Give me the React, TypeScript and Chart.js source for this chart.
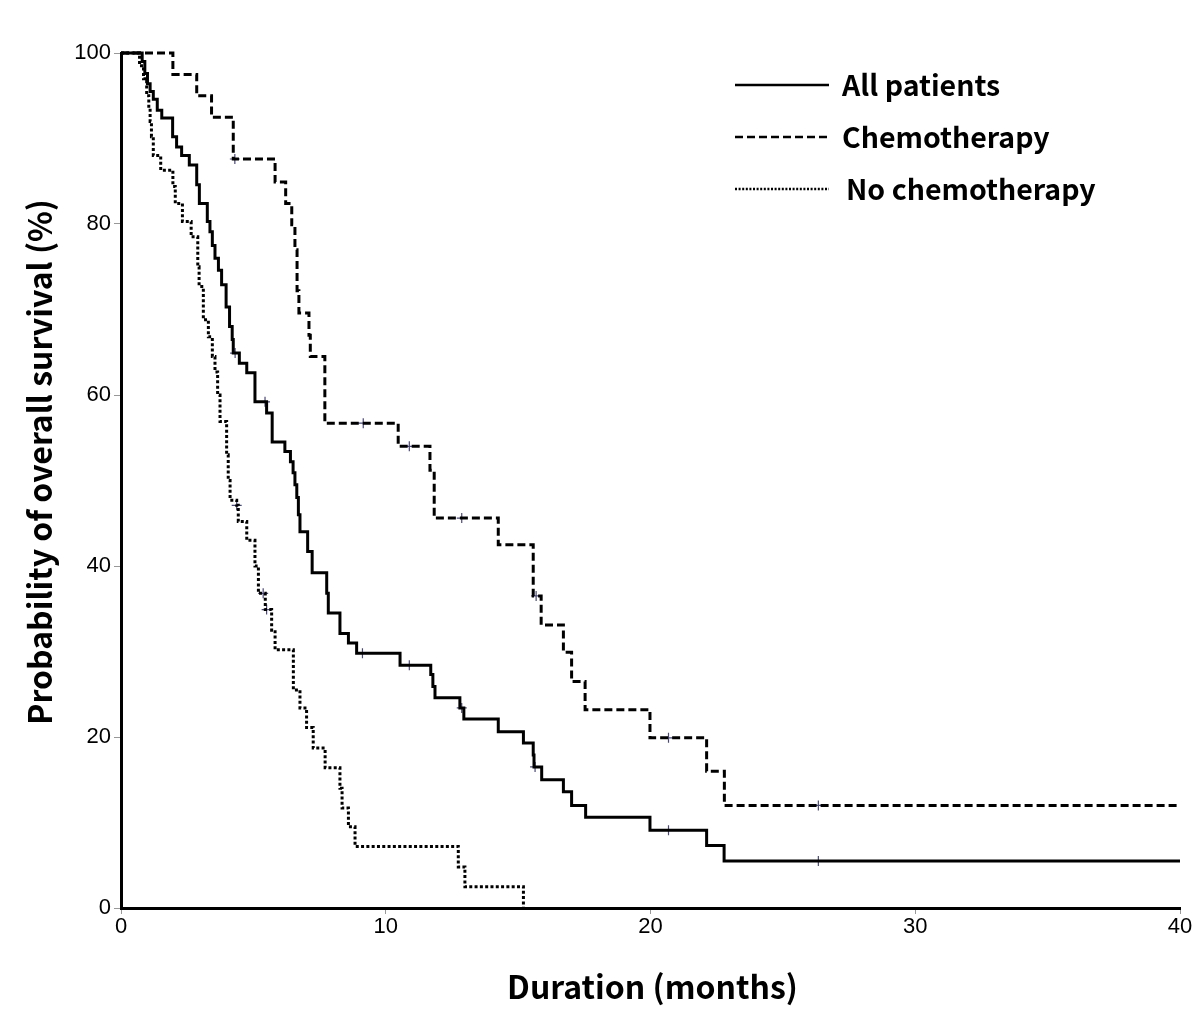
import React, { useEffect, useRef } from 'react';
import { Chart, registerables } from 'chart.js';

Chart.register(...registerables);

// ---- Data (months, % surviving after each drop) ----
const seriesNames = ['All patients', 'Chemotherapy', 'No chemotherapy'];

const allTimes = [0, 0.8, 0.9, 1.0, 1.1, 1.22, 1.37, 1.54, 1.95, 2.1, 2.29, 2.58, 2.86, 2.96, 3.26, 3.36, 3.45, 3.55, 3.68, 3.8, 3.97, 4.1, 4.2, 4.24, 4.47, 4.75, 5.06, 5.5, 5.71, 6.19, 6.4, 6.5, 6.57, 6.64, 6.7, 6.76, 7.05, 7.22, 7.77, 7.83, 8.27, 8.59, 8.9, 10.54, 11.7, 11.78, 11.86, 12.8, 12.95, 14.25, 15.2, 15.57, 15.6, 15.89, 16.71, 17.02, 17.55, 19.98, 22.12, 22.78, 40];
const allSurv = [100, 99.0, 97.6, 96.4, 95.5, 94.6, 93.3, 92.4, 90.2, 89.0, 88.0, 86.9, 84.6, 82.4, 80.3, 79.1, 77.5, 76.0, 74.6, 72.9, 70.3, 68.0, 66.5, 64.9, 63.7, 62.6, 59.2, 57.9, 54.5, 53.4, 52.2, 50.9, 49.5, 48.0, 46.0, 44.0, 41.7, 39.2, 36.8, 34.5, 32.1, 31.0, 29.8, 28.4, 27.3, 25.9, 24.6, 23.4, 22.1, 20.6, 19.3, 17.9, 16.5, 15.0, 13.6, 12.0, 10.6, 9.1, 7.3, 5.5, 5.5];
const allCensorT = [4.31, 5.44, 9.12, 10.89, 12.87, 15.64, 20.68, 26.34];
const allCensorS = [64.9, 59.2, 29.8, 28.4, 23.4, 16.5, 9.1, 5.5];

const chemoTimes = [0, 1.96, 2.86, 3.42, 4.24, 5.82, 6.22, 6.45, 6.57, 6.65, 6.72, 7.1, 7.15, 7.7, 10.47, 11.67, 11.83, 14.25, 15.57, 15.87, 16.71, 17.02, 17.53, 19.98, 22.12, 22.79, 40];
const chemoSurv = [100, 97.5, 95.0, 92.5, 87.6, 84.9, 82.4, 79.9, 77.0, 72.2, 69.6, 67.0, 64.5, 56.7, 54.0, 51.2, 45.6, 42.5, 36.5, 33.1, 29.9, 26.5, 23.2, 19.9, 16.0, 12.0, 12.0];
const chemoCensorT = [4.3, 9.15, 10.89, 12.87, 15.68, 20.68, 26.34];
const chemoCensorS = [87.6, 56.7, 54.0, 45.6, 36.5, 19.9, 12.0];

const noChemoTimes = [0, 0.7, 0.85, 0.97, 1.05, 1.1, 1.15, 1.22, 1.5, 1.96, 2.05, 2.32, 2.65, 2.9, 2.95, 3.11, 3.3, 3.45, 3.55, 3.65, 3.74, 3.99, 4.05, 4.12, 4.37, 4.43, 4.75, 5.06, 5.19, 5.45, 5.69, 5.82, 6.51, 6.76, 7.01, 7.26, 7.71, 8.27, 8.35, 8.59, 8.84, 12.74, 12.99, 15.2];
const noChemoSurv = [100, 98.5, 97.0, 95.0, 93.5, 92.0, 90.2, 88.0, 86.3, 84.4, 82.4, 80.3, 78.5, 75.0, 72.7, 68.8, 66.8, 64.5, 62.7, 60.0, 56.9, 53.0, 50.0, 47.7, 47.1, 45.2, 43.0, 40.0, 36.8, 34.9, 32.5, 30.2, 25.5, 23.4, 21.1, 18.7, 16.4, 14.0, 11.7, 9.5, 7.2, 4.8, 2.5, 0];
const noChemoCensorT = [4.37, 5.37, 5.5];
const noChemoCensorS = [47.1, 36.8, 34.9];

const xTicks = [0, 10, 20, 30, 40];
const yTicks = [0, 20, 40, 60, 80, 100];
const xTitle = 'Duration (months)';
const yTitle = 'Probability of overall survival (%)';

const toPts = (t: number[], s: number[]) => t.map((x, i) => ({ x, y: s[i] }));

const lineStyles = [
  { dash: [] as number[], width: 3 },
  { dash: [8, 4], width: 3 },
  { dash: [3, 2.3], width: 3 },
];

const titleFont = '"Noto Sans CJK KR", "Open Sans", sans-serif';
const tickFont = '"Liberation Sans", Arial, sans-serif';

const overlayPlugin = {
  id: 'overlay',
  afterDraw(chart: any) {
    const ctx = chart.ctx as CanvasRenderingContext2D;
    const area = chart.chartArea;
    ctx.save();
    // legend
    const ys = [85, 137, 189];
    seriesNames.forEach((name, i) => {
      const st = lineStyles[i];
      ctx.beginPath();
      ctx.setLineDash(i === 2 ? [2, 1.6] : st.dash);
      ctx.lineWidth = 2.5;
      ctx.strokeStyle = '#000';
      ctx.moveTo(735, ys[i]);
      ctx.lineTo(829, ys[i]);
      ctx.stroke();
      ctx.setLineDash([]);
      ctx.fillStyle = '#000';
      ctx.font = `bold 28.5px ${titleFont}`;
      ctx.textBaseline = 'middle';
      ctx.textAlign = 'left';
      ctx.fillText(name, i === 2 ? 846 : 842, ys[i]);
    });
    // axis titles
    ctx.font = `bold 32px ${titleFont}`;
    ctx.textAlign = 'center';
    ctx.textBaseline = 'middle';
    ctx.fillText(xTitle, (area.left + area.right) / 2 + 2, 987);
    ctx.translate(40, 462);
    ctx.rotate(-Math.PI / 2);
    ctx.fillText(yTitle, 0, 0);
    ctx.restore();
  },
};

export default function App() {
  const ref = useRef<HTMLCanvasElement | null>(null);
  useEffect(() => {
    if (!ref.current) return;
    const censorStyle = {
      type: 'scatter' as const,
      showLine: false,
      pointStyle: 'cross' as const,
      pointRadius: 5,
      pointBorderWidth: 1.2,
      pointBorderColor: '#4a4a78',
      pointBackgroundColor: '#4a4a78',
    };
    const lineDs = (i: number, t: number[], s: number[]) => ({
      label: seriesNames[i],
      data: toPts(t, s),
      borderColor: '#000',
      borderWidth: lineStyles[i].width,
      borderDash: lineStyles[i].dash,
      stepped: true,
      pointRadius: 0,
      fill: false,
      clip: 6,
    });
    const chart = new Chart(ref.current, {
      type: 'line',
      data: {
        datasets: [
          lineDs(0, allTimes, allSurv) as any,
          lineDs(1, chemoTimes, chemoSurv) as any,
          lineDs(2, noChemoTimes, noChemoSurv) as any,
          { ...censorStyle, label: 'c1', data: toPts(allCensorT, allCensorS) } as any,
          { ...censorStyle, label: 'c2', data: toPts(chemoCensorT, chemoCensorS) } as any,
          { ...censorStyle, label: 'c3', data: toPts(noChemoCensorT, noChemoCensorS) } as any,
        ],
      },
      options: {
        animation: false,
        responsive: false,
        maintainAspectRatio: false,
        layout: { padding: { top: 53, right: 20, left: 0, bottom: 0 } },
        plugins: { legend: { display: false }, tooltip: { enabled: false } },
        scales: {
          x: {
            type: 'linear',
            min: 0,
            max: 40,
            afterBuildTicks: (s: any) => { s.ticks = xTicks.map((v) => ({ value: v })); },
            afterFit: (s: any) => { s.height = 114; },
            grid: { drawOnChartArea: false, drawTicks: true, tickLength: 6, color: '#999', lineWidth: 1 },
            border: { color: '#000', width: 3 },
            ticks: { color: '#000', font: { family: tickFont, size: 22 }, padding: 0, maxRotation: 0 },
          },
          y: {
            type: 'linear',
            min: 0,
            max: 100,
            afterBuildTicks: (s: any) => { s.ticks = yTicks.map((v) => ({ value: v })); },
            afterFit: (s: any) => { s.width = 121; },
            grid: { drawOnChartArea: false, drawTicks: true, tickLength: 7, color: '#999', lineWidth: 1 },
            border: { color: '#000', width: 3 },
            ticks: { color: '#000', font: { family: tickFont, size: 22 }, padding: 3 },
          },
        },
      },
      plugins: [overlayPlugin],
    });
    return () => chart.destroy();
  }, []);
  return (
    <div style={{ position: 'absolute', left: 0, top: 0, width: 1200, height: 1022, background: '#fff' }}>
      <canvas ref={ref} width={1200} height={1022} style={{ width: 1200, height: 1022, display: 'block' }} />
    </div>
  );
}
